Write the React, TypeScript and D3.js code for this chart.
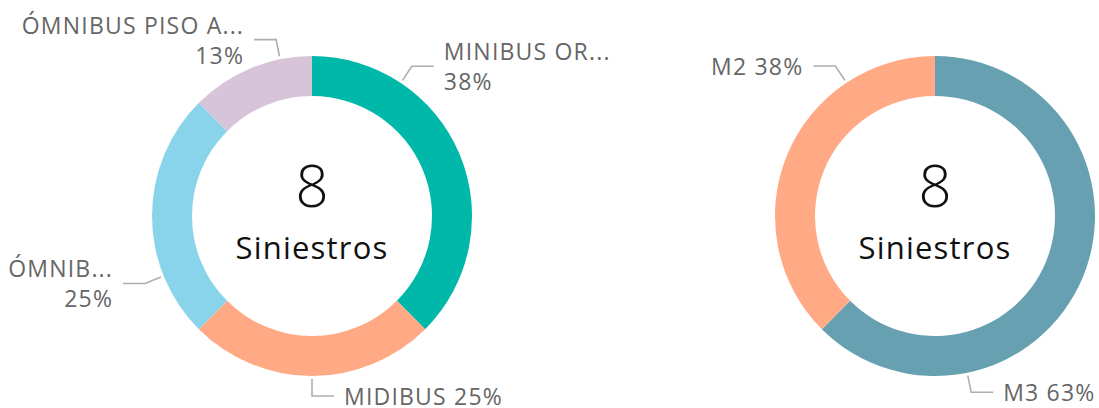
import React from "react";
import * as d3 from "d3";

const leftCategories = ["MINIBUS OR...", "MIDIBUS", "ÓMNIB...", "ÓMNIBUS PISO A..."];
const leftValues = [3, 2, 2, 1];
const leftColors = ["#00B8AA", "#FFA985", "#8AD4EB", "#D8C4D8"];
const leftLabelAngles = [33.7, 180, 248, -11.5];
const leftLabelLines = [2, 1, 2, 2];

const rightCategories = ["M3", "M2"];
const rightValues = [5, 3];
const rightColors = ["#67A0B1", "#FFA985"];
const rightLabelAngles = [168.4, -33.6];
const rightLabelLines = [1, 1];

const centerLabel = "Siniestros";

const W = 1099;
const H = 408;
const R_OUT = 160;
const R_IN = 120;
const FONT = "'Open Sans', 'DejaVu Sans', sans-serif";

type DonutProps = {
  cx: number;
  cy: number;
  categories: string[];
  values: number[];
  colors: string[];
  labelAngles: number[];
  labelLines: number[];
};

function Donut({ cx, cy, categories, values, colors, labelAngles, labelLines }: DonutProps) {
  const total = d3.sum(values);
  const pie = d3.pie<number>().sort(null).value((d) => d);
  const arcs = pie(values);
  const arcGen = d3.arc<d3.PieArcDatum<number>>().innerRadius(R_IN).outerRadius(R_OUT);
  const pt = (deg: number, r: number): [number, number] => {
    const a = (deg * Math.PI) / 180;
    return [Math.sin(a) * r, -Math.cos(a) * r];
  };
  return (
    <g transform={`translate(${cx},${cy})`}>
      {arcs.map((a, i) => (
        <path key={i} d={arcGen(a) || ""} fill={colors[i]} />
      ))}
      {arcs.map((a, i) => {
        const pct = Math.round((values[i] / total) * 100) + "%";
        const ang = labelAngles[i];
        const [x0, y0] = pt(ang, R_OUT + 3);
        const [x1, y1] = pt(ang, R_OUT + 20);
        const right = Math.sin((ang * Math.PI) / 180) >= 0;
        const x2 = x1 + (right ? 22 : -22);
        const tx = x2 + (right ? 10 : -10);
        const anchor = right ? "start" : "end";
        const line = d3.line()([[x0, y0], [x1, y1], [x2, y1]]) || "";
        return (
          <g key={"l" + i}>
            <path d={line} fill="none" stroke="#AEAEAE" strokeWidth={1.6} />
            {labelLines[i] === 2 ? (
              <text x={tx} textAnchor={anchor} fontFamily={FONT} fontSize={23} fill="#666" letterSpacing={1.2}>
                <tspan x={tx} y={y1 - 6}>{categories[i]}</tspan>
                <tspan x={tx} y={y1 + 24}>{pct}</tspan>
              </text>
            ) : (
              <text x={tx} y={y1 + 8.5} textAnchor={anchor} fontFamily={FONT} fontSize={23} fill="#666" letterSpacing={1.2}>
                {categories[i] + " " + pct}
              </text>
            )}
          </g>
        );
      })}
      <text x={0} y={-9} textAnchor="middle" fontFamily={FONT} fontSize={58} fill="#111" fontWeight={300}>
        {total}
      </text>
      <text x={0} y={43} textAnchor="middle" fontFamily={FONT} fontSize={31} fill="#111" letterSpacing={1.2}>
        {centerLabel}
      </text>
    </g>
  );
}

export default function App() {
  return (
    <svg width={W} height={H} style={{ position: "absolute", left: 0, top: 0, background: "#fff" }}>
      <Donut
        cx={312}
        cy={216}
        categories={leftCategories}
        values={leftValues}
        colors={leftColors}
        labelAngles={leftLabelAngles}
        labelLines={leftLabelLines}
      />
      <Donut
        cx={935}
        cy={216}
        categories={rightCategories}
        values={rightValues}
        colors={rightColors}
        labelAngles={rightLabelAngles}
        labelLines={rightLabelLines}
      />
    </svg>
  );
}
